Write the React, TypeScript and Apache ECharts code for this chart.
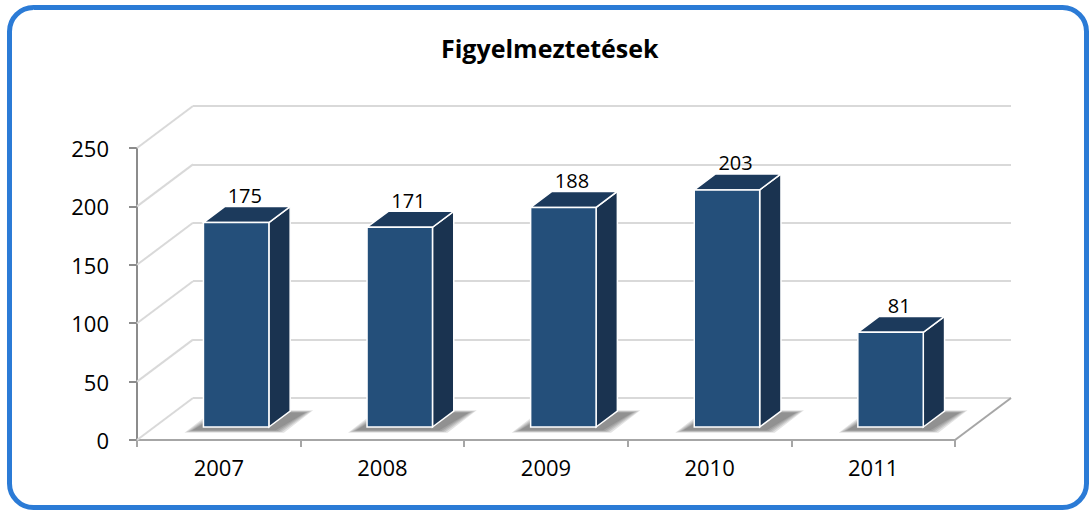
import React, { useEffect, useRef } from "react";
import * as echarts from "echarts";

const titleText = "Figyelmeztetések";
const categories = ["2007", "2008", "2009", "2010", "2011"];
const values = [175, 171, 188, 203, 81];
const yTicks = [0, 50, 100, 150, 200, 250];

const DX = 56;
const DY = 42;
const F_FRONT = 0.31;
const F_BACK = 0.69;
const BAR_W = 0.4;
const SHADOW_LAYERS = [9, 7, 5, 3, 1];

export default function App() {
  const ref = useRef<HTMLDivElement>(null);
  useEffect(() => {
    if (!ref.current) return;
    const chart = echarts.init(ref.current, undefined, { renderer: "svg" });
    const font = "'Open Sans', 'DejaVu Sans', sans-serif";
    const option: any = {
      animation: false,
      backgroundColor: "#ffffff",
      title: {
        text: titleText,
        left: 436,
        top: 30,
        textStyle: { fontFamily: font, fontSize: 25, fontWeight: "bold", color: "#000" },
      },
      grid: [
        { left: 137, top: 148, width: 818, height: 292 },
        { left: 193, top: 106, width: 818, height: 292 },
      ],
      xAxis: [
        {
          gridIndex: 0,
          type: "category",
          data: categories,
          axisLine: { lineStyle: { color: "#A6A6A6", width: 2 } },
          axisTick: { show: true, length: 7, lineStyle: { color: "#A6A6A6", width: 2 } },
          axisLabel: { color: "#000", fontFamily: font, fontSize: 22, margin: 16 },
          splitLine: { show: false },
        },
        {
          gridIndex: 1,
          type: "category",
          data: categories,
          show: false,
        },
      ],
      yAxis: [
        {
          gridIndex: 0,
          type: "value",
          min: 0,
          max: 250,
          interval: 50,
          axisLine: { show: true, lineStyle: { color: "#8C8C8C", width: 2 } },
          axisTick: { show: true, length: 8, lineStyle: { color: "#8C8C8C", width: 2 } },
          axisLabel: { color: "#000", fontFamily: font, fontSize: 22, margin: 28 },
          splitLine: { show: false },
        },
        {
          gridIndex: 1,
          type: "value",
          min: 0,
          max: 250,
          interval: 50,
          axisLine: { show: false },
          axisTick: { show: false },
          axisLabel: { show: false },
          splitLine: { show: true, lineStyle: { color: "#D9D9D9", width: 2 } },
        },
      ],
      graphic: [
        {
          type: "rect",
          shape: { x: 9.5, y: 7.5, width: 1077, height: 500, r: 24 },
          style: { fill: "none", stroke: "#2B7BD6", lineWidth: 5 },
          z: 100,
        },
      ],
      series: [
        {
          type: "custom",
          xAxisIndex: 0,
          yAxisIndex: 0,
          data: yTicks.map((t) => [0, t]),
          z: 1,
          renderItem: (params: any, api: any) => {
            const cs = params.coordSys;
            const y = api.coord([0, api.value(1)])[1];
            const x0 = cs.x;
            return {
              type: "line",
              shape: { x1: x0, y1: y, x2: x0 + DX, y2: y - DY },
              style: { stroke: "#D9D9D9", lineWidth: 2 },
            };
          },
          silent: true,
        },
        {
          type: "custom",
          xAxisIndex: 0,
          yAxisIndex: 0,
          data: [[categories.length - 1, 0]],
          z: 1,
          renderItem: (params: any, api: any) => {
            const cs = params.coordSys;
            const y = api.coord([0, api.value(1)])[1];
            const x0 = cs.x + cs.width;
            return {
              type: "line",
              shape: { x1: x0, y1: y, x2: x0 + DX, y2: y - DY },
              style: { stroke: "#A6A6A6", lineWidth: 2 },
            };
          },
          silent: true,
        },
        {
          type: "custom",
          xAxisIndex: 0,
          yAxisIndex: 0,
          data: values.map((v, i) => [i, v]),
          z: 5,
          renderItem: (params: any, api: any) => {
            const idx = api.value(0);
            const v = api.value(1);
            const base = api.coord([idx, 0]);
            const top = api.coord([idx, v]);
            const band = api.size([1, 0])[0];
            const w = band * BAR_W;
            const fx = DX * F_FRONT;
            const fy = DY * F_FRONT;
            const x0 = base[0] - w / 2 + fx;
            const x1 = x0 + w;
            const yb = base[1] - fy;
            const yt = top[1] - fy;
            const ddx = DX * (F_BACK - F_FRONT);
            const ddy = DY * (F_BACK - F_FRONT);
            const shadows = SHADOW_LAYERS.map((e) => ({
              type: "polygon",
              shape: {
                points: [
                  [x0 - 10 - e, yb + 3 + e * 0.3],
                  [x1 + 6 + e, yb + 3 + e * 0.3],
                  [x1 + ddx + 14 + e, yb - ddy + 2 - e * 0.3],
                  [x0 + ddx - 2 - e, yb - ddy + 2 - e * 0.3],
                ],
              },
              style: { fill: "rgba(40,40,40,0.13)" },
            }));
            return {
              type: "group",
              children: [
                ...shadows,
                {
                  type: "polygon",
                  shape: {
                    points: [
                      [x1, yb],
                      [x1 + ddx, yb - ddy],
                      [x1 + ddx, yt - ddy],
                      [x1, yt],
                    ],
                  },
                  style: { fill: "#1A3350", stroke: "#ffffff", lineWidth: 1.5 },
                },
                {
                  type: "polygon",
                  shape: {
                    points: [
                      [x0, yt],
                      [x1, yt],
                      [x1 + ddx, yt - ddy],
                      [x0 + ddx, yt - ddy],
                    ],
                  },
                  style: { fill: "#1C3A5C", stroke: "#ffffff", lineWidth: 1.5 },
                },
                {
                  type: "rect",
                  shape: { x: x0, y: yt, width: w, height: yb - yt },
                  style: { fill: "#244F7A", stroke: "#ffffff", lineWidth: 1.5 },
                },
                {
                  type: "text",
                  style: {
                    x: x0 + (w + ddx) / 2 - 2,
                    y: yt - ddy - 11,
                    text: String(v),
                    fill: "#000",
                    font: "20px 'Open Sans', sans-serif",
                    align: "center",
                    verticalAlign: "middle",
                  },
                },
              ],
            };
          },
        },
      ],
    };
    chart.setOption(option);
    return () => chart.dispose();
  }, []);
  return (
    <div
      ref={ref}
      style={{ position: "fixed", left: 0, top: 0, width: 1092, height: 511 }}
    />
  );
}
